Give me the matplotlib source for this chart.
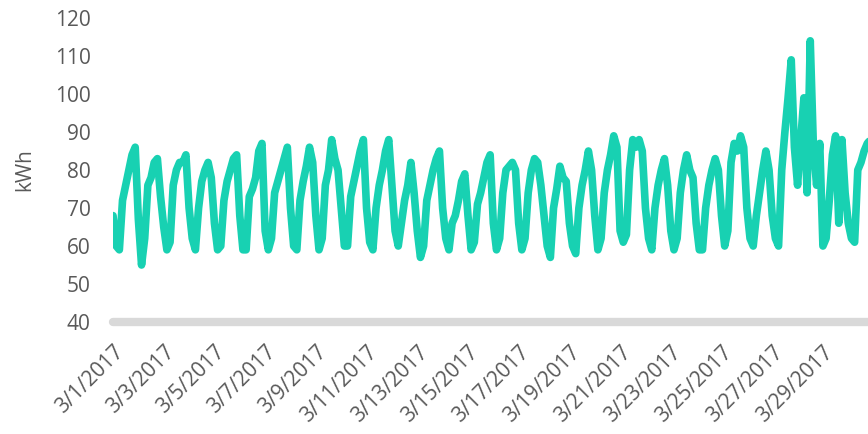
import numpy as np
import matplotlib
matplotlib.use("Agg")
import matplotlib.pyplot as plt

# 3-hourly energy use (kWh), readings at 0,3,6,9,12,15,18,21h of each day in March 2017
d01 = [68, 60, 59, 72, 76, 80, 84, 86]
d02 = [67, 55, 62, 76, 78, 82, 83, 73]
d03 = [65, 59, 61, 76, 80, 82, 82, 84]
d04 = [70, 62, 59, 70, 77, 80, 82, 78]
d05 = [66, 59, 60, 72, 77, 80, 83, 84]
d06 = [68, 59, 59, 73, 75, 78, 85, 87]
d07 = [64, 59, 62, 74, 77, 80, 83, 86]
d08 = [70, 60, 59, 72, 77, 81, 86, 82]
d09 = [68, 59, 62, 76, 80, 88, 83, 80]
d10 = [70, 60, 60, 73, 77, 81, 85, 88]
d11 = [70, 61, 59, 70, 76, 80, 85, 88]
d12 = [76, 64, 60, 66, 72, 76, 82, 74]
d13 = [64, 57, 60, 72, 76, 80, 83, 85]
d14 = [70, 62, 59, 66, 68, 72, 77, 79]
d15 = [68, 59, 61, 71, 74, 78, 82, 84]
d16 = [66, 59, 62, 74, 80, 81, 82, 80]
d17 = [66, 59, 62, 74, 80, 83, 82, 76]
d18 = [68, 60, 57, 70, 75, 81, 78, 77]
d19 = [66, 60, 58, 70, 76, 80, 85, 80]
d20 = [68, 59, 62, 74, 80, 84, 89, 86]
d21 = [64, 61, 63, 80, 88, 86, 88, 85]
d22 = [70, 62, 59, 70, 76, 80, 83, 76]
d23 = [64, 59, 62, 74, 80, 84, 80, 78]
d24 = [66, 59, 59, 70, 76, 80, 83, 80]
d25 = [68, 60, 64, 82, 87, 85, 89, 86]
d26 = [70, 62, 60, 68, 74, 80, 85, 80]
d27 = [68, 62, 60, 80, 90, 99, 109, 86]
d28 = [76, 88, 99, 74, 114, 86, 76, 87]
d29 = [60, 62, 72, 84, 89, 66, 88, 74]
d30 = [66, 62, 61, 80, 82, 85, 87, 88]
d31 = [70, 60, 62, 76, 80, 84, 86, 82]

days = [d01, d02, d03, d04, d05, d06, d07, d08, d09, d10, d11, d12, d13, d14, d15, d16,
        d17, d18, d19, d20, d21, d22, d23, d24, d25, d26, d27, d28, d29, d30, d31]

# one label every other day
tick_labels = ["3/%d/2017" % d for d in range(1, 30, 2)]

kwh = np.concatenate(days)
hours = np.arange(len(kwh)) * 3.0

plt.rcParams['font.family'] = ['Open Sans', 'DejaVu Sans']
grey = '#595959'

fig = plt.figure(figsize=(8.68, 4.34), dpi=100)
ax = fig.add_axes([0.1302, 0.258, 0.9055, 0.7005])

ax.plot(hours, kwh, color='#18D1B2', lw=5.5, solid_joinstyle='round', solid_capstyle='round')

ax.set_xlim(0, 744)
ax.set_ylim(40, 120)
ax.set_yticks(np.arange(40, 121, 10))
ax.set_xticks(np.arange(len(tick_labels)) * 48)
ax.set_xticklabels(tick_labels, rotation=45, ha='right', va='top', rotation_mode='anchor')

ax.tick_params(axis='both', length=0, labelsize=15, labelcolor=grey)
ax.tick_params(axis='y', pad=16)
ax.tick_params(axis='x', pad=14)

for s in ['top', 'right', 'left']:
    ax.spines[s].set_visible(False)
ax.spines['bottom'].set_color('#D9D9D9')
ax.spines['bottom'].set_linewidth(6)
ax.spines['bottom'].set_capstyle('round')
ax.spines['bottom'].set_zorder(1)

ax.set_ylabel("kWh", fontsize=15, color=grey, labelpad=14)

fig.savefig("out.png", dpi=100)
